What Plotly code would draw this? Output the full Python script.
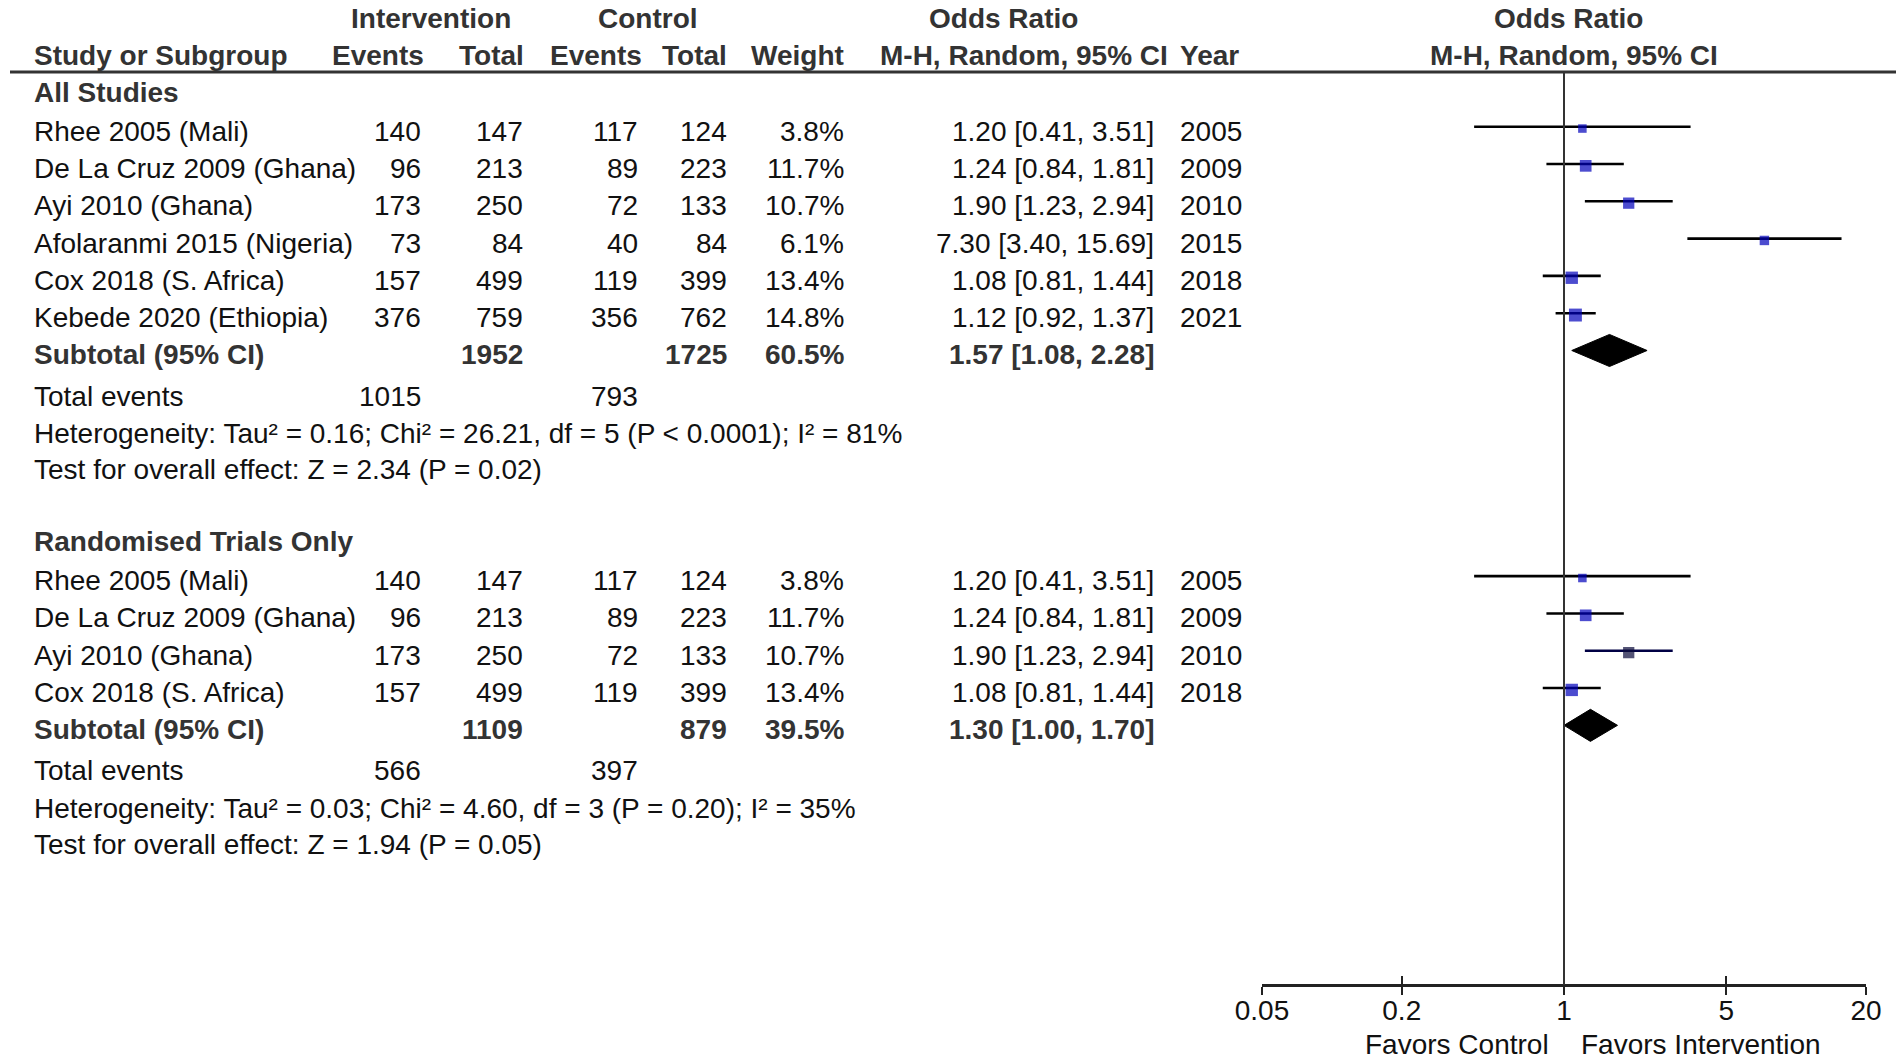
import plotly.graph_objects as go

# ---------------- data ----------------
sec1_title = "All Studies"
sec1_studies = ["Rhee 2005 (Mali)", "De La Cruz 2009 (Ghana)", "Ayi 2010 (Ghana)",
                "Afolaranmi 2015 (Nigeria)", "Cox 2018 (S. Africa)", "Kebede 2020 (Ethiopia)"]
sec1_int_events = [140, 96, 173, 73, 157, 376]
sec1_int_total = [147, 213, 250, 84, 499, 759]
sec1_ctl_events = [117, 89, 72, 40, 119, 356]
sec1_ctl_total = [124, 223, 133, 84, 399, 762]
sec1_weight = [3.8, 11.7, 10.7, 6.1, 13.4, 14.8]
sec1_or = [1.20, 1.24, 1.90, 7.30, 1.08, 1.12]
sec1_lo = [0.41, 0.84, 1.23, 3.40, 0.81, 0.92]
sec1_hi = [3.51, 1.81, 2.94, 15.69, 1.44, 1.37]
sec1_year = [2005, 2009, 2010, 2015, 2018, 2021]
sec1_sub = [1952, 1725, 60.5, 1.57, 1.08, 2.28]   # int total, ctl total, weight, OR, lo, hi
sec1_events = [1015, 793]
sec1_het = "Heterogeneity: Tau² = 0.16; Chi² = 26.21, df = 5 (P < 0.0001); I² = 81%"
sec1_test = "Test for overall effect: Z = 2.34 (P = 0.02)"

sec2_title = "Randomised Trials Only"
sec2_studies = ["Rhee 2005 (Mali)", "De La Cruz 2009 (Ghana)", "Ayi 2010 (Ghana)", "Cox 2018 (S. Africa)"]
sec2_int_events = [140, 96, 173, 157]
sec2_int_total = [147, 213, 250, 499]
sec2_ctl_events = [117, 89, 72, 119]
sec2_ctl_total = [124, 223, 133, 399]
sec2_weight = [3.8, 11.7, 10.7, 13.4]
sec2_or = [1.20, 1.24, 1.90, 1.08]
sec2_lo = [0.41, 0.84, 1.23, 0.81]
sec2_hi = [3.51, 1.81, 2.94, 1.44]
sec2_year = [2005, 2009, 2010, 2018]
sec2_sub = [1109, 879, 39.5, 1.30, 1.00, 1.70]
sec2_events = [566, 397]
sec2_het = "Heterogeneity: Tau² = 0.03; Chi² = 4.60, df = 3 (P = 0.20); I² = 35%"
sec2_test = "Test for overall effect: Z = 1.94 (P = 0.05)"

tick_vals = [0.05, 0.2, 1, 5, 20]
tick_text = ["0.05", "0.2", "1", "5", "20"]
favors_left = "Favors Control"
favors_right = "Favors Intervention"

# ---------------- layout helpers ----------------
PAGE = 0                          # body margin removed by the post script below
W, H = 1902 - 2 * PAGE, 1061 - 2 * PAGE
ROW0, ROWH = 92.0 - PAGE, 37.3    # figure pixel centre of row 0 and row height
FONT = "Liberation Sans, Arial, Helvetica, sans-serif"
FS = 28
REG = "#111111"
BOLDC = "#333333"
SQ = "#0000bb"


def px(x):          # screen x -> paper fraction
    return (x - PAGE) / W


def py_paper(y):    # screen y -> paper fraction
    return 1 - (y - PAGE) / H


annotations = []


def txt(x, row, s, anchor="left", bold=False, color=None):
    annotations.append(dict(
        x=px(x), xref="paper", y=row, yref="y", text=("<b>%s</b>" % s) if bold else s,
        showarrow=False, xanchor=anchor, yanchor="middle", borderpad=0,
        font=dict(family=FONT, size=FS, color=color or (BOLDC if bold else REG))))


# header
HR1 = -1.97
txt(431, HR1, "Intervention", "center", True)
txt(648, HR1, "Control", "center", True)
txt(1003, HR1, "Odds Ratio", "center", True)
txt(1568, HR1, "Odds Ratio", "center", True)
txt(33, -0.99, "Study or Subgroup", "left", True)
txt(425, -0.99, "Events", "right", True)
txt(525, -0.99, "Total", "right", True)
txt(643, -0.99, "Events", "right", True)
txt(728, -0.99, "Total", "right", True)
txt(845, -0.99, "Weight", "right", True)
txt(1169, -0.99, "M-H, Random, 95% CI", "right", True)
txt(1179, -0.99, "Year", "left", True)
txt(1574, -0.99, "M-H, Random, 95% CI", "center", True)

fig = go.Figure()
FOFF = -0.12  # forest marks sit slightly above text centre


def section(t, title, studies, ie, it, ce, ct, wt, orv, lo, hi, yr, sub, ev, het, test, colors):
    txt(33, t, title, "left", True)
    n = len(studies)
    rows = [t + 1.05 + i for i in range(n)]
    for i, r in enumerate(rows):
        txt(33, r, studies[i])
        txt(422, r, str(ie[i]), "right")
        txt(524, r, str(it[i]), "right")
        txt(639, r, str(ce[i]), "right")
        txt(728, r, str(ct[i]), "right")
        txt(845, r, "%.1f%%" % wt[i], "right")
        txt(1155, r, "%.2f [%.2f, %.2f]" % (orv[i], lo[i], hi[i]), "right")
        txt(1179, r, str(yr[i]), "left")
        # CI line
        fig.add_trace(go.Scatter(x=[lo[i], hi[i]], y=[r + FOFF, r + FOFF], mode="lines",
                                 line=dict(color=colors[i][1], width=2.6),
                                 hoverinfo="skip", showlegend=False))
    fig.add_trace(go.Scatter(x=orv, y=[r + FOFF + 0.05 for r in rows], mode="markers",
                             marker=dict(symbol="square", color=[c[0] for c in colors],
                                         size=[7 + 0.4 * w for w in wt], line=dict(width=0)),
                             hoverinfo="skip", showlegend=False))
    rs = t + 1.05 + n
    txt(33, rs, "Subtotal (95% CI)", "left", True)
    txt(524, rs, str(sub[0]), "right", True)
    txt(728, rs, str(sub[1]), "right", True)
    txt(845, rs, "%.1f%%" % sub[2], "right", True)
    txt(1155, rs, "%.2f [%.2f, %.2f]" % (sub[3], sub[4], sub[5]), "right", True)
    yd = rs + FOFF
    hh = 0.43
    fig.add_trace(go.Scatter(x=[sub[4], sub[3], sub[5], sub[3], sub[4]],
                             y=[yd, yd - hh, yd, yd + hh, yd], mode="lines", fill="toself",
                             fillcolor="#000000", line=dict(color="#000000", width=1),
                             hoverinfo="skip", showlegend=False))
    txt(33, t + n + 2.15, "Total events")
    txt(422, t + n + 2.15, str(ev[0]), "right")
    txt(639, t + n + 2.15, str(ev[1]), "right")
    txt(33, t + n + 3.15, het)
    txt(33, t + n + 4.13, test)


blue = (SQ, "#000000")
section(0, sec1_title, sec1_studies, sec1_int_events, sec1_int_total, sec1_ctl_events,
        sec1_ctl_total, sec1_weight, sec1_or, sec1_lo, sec1_hi, sec1_year, sec1_sub,
        sec1_events, sec1_het, sec1_test, [blue] * 6)
section(12.05, sec2_title, sec2_studies, sec2_int_events, sec2_int_total, sec2_ctl_events,
        sec2_ctl_total, sec2_weight, sec2_or, sec2_lo, sec2_hi, sec2_year, sec2_sub,
        sec2_events, sec2_het, sec2_test, [blue, blue, ("#0a0a3a", "#000044"), blue])

# invisible traces on the overlay axes (tick halves below / above the line)
for ax in ("x2", "x3"):
    fig.add_trace(go.Scatter(x=[1], y=[0], xaxis=ax, mode="markers",
                             marker=dict(opacity=0), hoverinfo="skip", showlegend=False))

# favors labels
annotations.append(dict(x=px(1550), xref="paper", y=py_paper(1044), yref="paper",
                        text=favors_left, showarrow=False, xanchor="right", yanchor="middle",
                        borderpad=0, font=dict(family=FONT, size=FS, color=REG)))
annotations.append(dict(x=px(1580), xref="paper", y=py_paper(1044), yref="paper",
                        text=favors_right, showarrow=False, xanchor="left", yanchor="middle",
                        borderpad=0, font=dict(family=FONT, size=FS, color=REG)))

AXY = 985
axis_common = dict(type="log", range=[-1.30103, 1.30103], domain=[px(1262), px(1866)],
                   anchor="free", position=py_paper(AXY), showgrid=False, zeroline=False,
                   showline=True, linecolor="#222222", linewidth=2.6, automargin=False,
                   tickvals=tick_vals, ticktext=tick_text, ticklen=8, tickwidth=2.4,
                   tickcolor="#222222")

fig.update_layout(
    width=W, height=H, margin=dict(l=0, r=0, t=0, b=0, pad=0, autoexpand=False),
    paper_bgcolor="white", plot_bgcolor="white",
    xaxis=dict(**axis_common, ticks="",
               tickfont=dict(family=FONT, size=FS, color=REG)),
    xaxis2=dict(**axis_common, ticks="outside", overlaying="x", matches="x",
                showticklabels=False),
    xaxis3=dict(**axis_common, ticks="inside", overlaying="x", matches="x",
                showticklabels=False),
    yaxis=dict(range=[(H - ROW0) / ROWH, -ROW0 / ROWH], visible=False, domain=[0, 1],
               automargin=False),
    annotations=annotations,
    shapes=[
        dict(type="line", xref="paper", yref="paper", x0=px(10), x1=px(1896),
             y0=py_paper(72), y1=py_paper(72), line=dict(color="#333333", width=3)),
        dict(type="line", xref="x", yref="paper", x0=1, x1=1,
             y0=py_paper(72), y1=py_paper(AXY), line=dict(color="#333333", width=2)),
    ],
)

fig.write_html("out.html", config={"displayModeBar": False},
               post_script="document.body.style.margin='0';document.body.style.overflow='hidden';")
